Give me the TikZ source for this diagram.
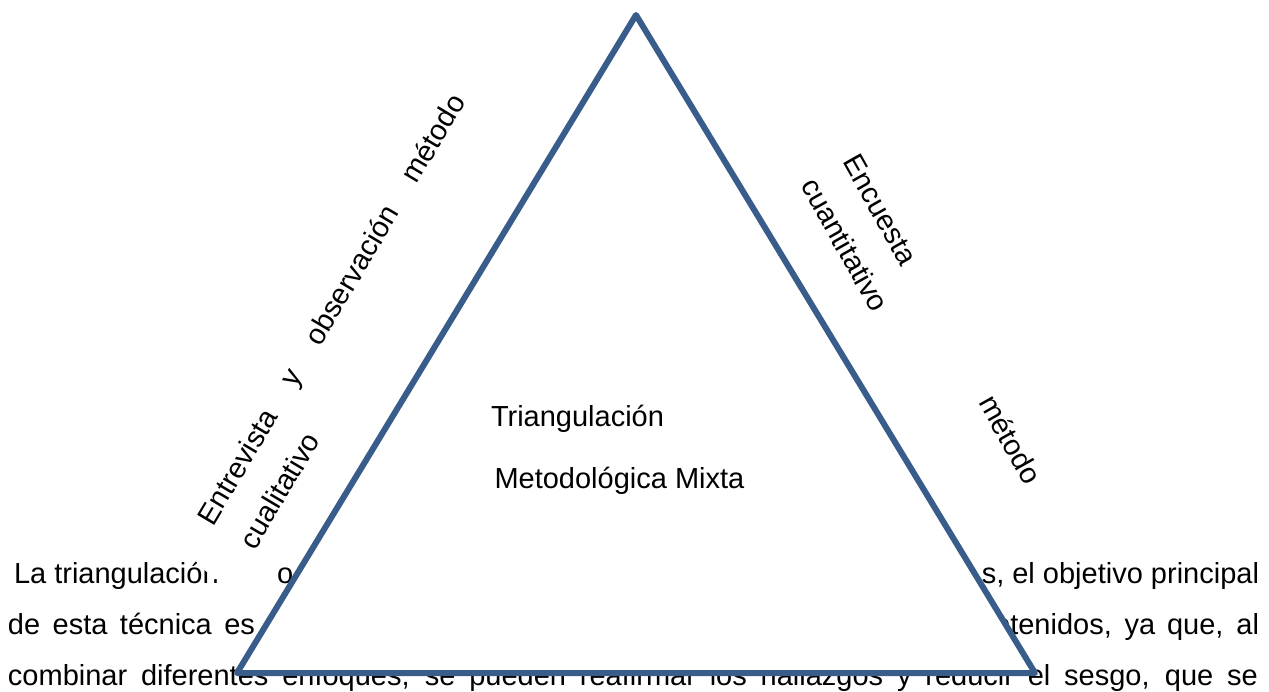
\documentclass[tikz,border=0pt]{standalone}
\usepackage{fontspec}
\setmainfont{Liberation Sans}
\definecolor{triblue}{RGB}{56,93,138}
\begin{document}
\begin{tikzpicture}[x=1pt,y=-1pt,
  txt/.style={font=\fontsize{29}{48}\selectfont, inner sep=0pt, outer sep=0pt, text=black},
  tri/.style={draw=triblue, line width=6pt, fill=white, line join=round}]
\useasboundingbox (0,0) rectangle (1269,692);
\fill[white] (0,0) rectangle (1269,692);
% body paragraph (behind the triangle)
\node[txt, anchor=base west] (l1a) at (14,583) {La triangulación};
\node[txt, anchor=base west] (l1b) at (277,583) {o};
\node[txt, anchor=base east] (l1c) at (1259,583) {s, el objetivo principal};
\node[txt, anchor=base west] (l2a) at (8,634) {\makebox[247pt][s]{de esta técnica es}};
\node[txt, anchor=base east] (l2b) at (1259,634) {\makebox[281pt][s]{obtenidos, ya que, al}};
\node[txt, anchor=base west] (l3) at (8,685) {\makebox[1250pt][s]{combinar diferentes enfoques, se pueden reafirmar los hallazgos y reducir el sesgo, que se}};
% white patch of the label frame
\fill[white] (184,550) -- (276,550) -- (276,579) -- (214,579) -- cycle;
% triangle
\coordinate (A) at (636,15);
\coordinate (B) at (237,673);
\coordinate (C) at (1035,673);
\draw[tri] (A) -- (B) -- (C) -- cycle;
% centre labels
\node[txt, anchor=base west] (c1) at (491,426) {Triangulación};
\node[txt, anchor=base west] (c2) at (494.5,488) {Metodológica Mixta};
% left label
\node[txt, rotate=59.2, anchor=base west] (lab1) at (213,527) {\makebox[495pt][s]{Entrevista y observación método}};
\node[txt, rotate=59.2, anchor=base west] (lab2) at (255,551) {cualitativo};
% right label
\node[txt, rotate=-60.5, anchor=base west] (rab1) at (842,162) {\makebox[373pt][s]{Encuesta método}};
\node[txt, rotate=-60.5, anchor=base west] (rab2) at (800,186) {cuantitativo};
\end{tikzpicture}
\end{document}
